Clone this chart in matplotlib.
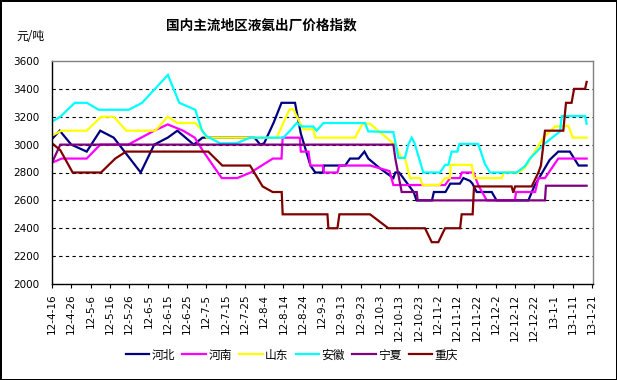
import matplotlib
matplotlib.use("Agg")
import matplotlib.pyplot as plt
import numpy as np

plt.rcParams['font.family'] = ['Noto Sans CJK SC', 'DejaVu Sans']

# day offsets from 2012-04-16, index values (元/吨)
hebei_day = [0, 4, 10, 18, 25, 32, 46, 53, 60, 65, 73.5, 78, 105, 108, 110, 115, 119, 126, 129,
             134, 136.5, 140.5, 141, 152, 154.5, 159, 162, 164, 170, 174, 177, 178, 180, 187.5,
             189, 197, 198, 204, 206.5, 211.5, 213.3, 216.7, 218, 220.2, 228, 230.5, 247, 250,
             258, 262.5, 268.5, 273, 277.2]
hebei_val = [3040, 3100, 3000, 2950, 3100, 3050, 2800, 3000, 3050, 3100, 3000, 3050, 3050, 3000,
             3010, 3160, 3300, 3300, 3080, 2850, 2800, 2800, 2850, 2850, 2900, 2900, 2950, 2900,
             2830, 2790, 2760, 2800, 2800, 2660, 2600, 2600, 2660, 2660, 2720, 2720, 2760, 2740,
             2720, 2660, 2660, 2600, 2600, 2700, 2890, 2950, 2950, 2850, 2850]

henan_day = [0, 5, 18, 25, 39.5, 53, 60, 68, 74, 78.5, 88, 96, 103, 114.5, 119, 119.6, 128.5, 129,
             133, 134, 140.5, 141, 148, 149, 165, 170, 175, 177, 203.8, 206.4, 211.5, 212.5,
             218.5, 221, 225.4, 240, 240.6, 250.5, 252.2, 255.6, 262.5, 277.2]
henan_val = [2870, 2900, 2900, 3000, 3000, 3100, 3145, 3100, 3050, 2950, 2760, 2760, 2800, 2900,
             2900, 3050, 3050, 2950, 2950, 2850, 2850, 2800, 2800, 2850, 2850, 2830, 2810, 2710,
             2710, 2760, 2760, 2800, 2800, 2710, 2600, 2600, 2660, 2660, 2760, 2760, 2900, 2900]

shandong_day = [0, 5, 18, 25.5, 32, 38.5, 53.5, 60, 65, 74.3, 78, 80.2, 116.5, 123, 125, 130.3,
                135.5, 136.5, 157.1, 161, 164.9, 176, 177.8, 181.3, 183, 185.6, 190.8, 192.2,
                200.8, 203.8, 206.3, 206.7, 217.6, 218.8, 233.2, 234.4, 241.8, 245.3, 247.8,
                254.8, 260.8, 267.7, 270, 277.2]
shandong_val = [3065, 3100, 3100, 3200, 3200, 3100, 3100, 3200, 3155, 3155, 3100, 3050, 3050, 3250,
                3255, 3110, 3110, 3050, 3050, 3150, 3150, 3020, 3000, 2905, 2905, 2760, 2760, 2710,
                2710, 2760, 2760, 2855, 2855, 2760, 2760, 2800, 2800, 2835, 2895, 3050, 3130, 3135,
                3050, 3050]

anhui_day = [0, 4.3, 11.8, 18.1, 24.2, 39.8, 46.7, 60.1, 66, 74.3, 77.8, 80.2, 87.1, 95.8, 102.7,
             120, 123.4, 126.9, 129.5, 135.5, 137.2, 140.7, 162.3, 164, 177, 179.6, 183, 184.7,
             186.5, 188, 192.5, 201.2, 203.8, 205.5, 207.2, 210.2, 211.2, 221, 224.5, 227.1,
             240.9, 245.2, 247.8, 254.8, 263.4, 264.3, 276.4, 277.2]
anhui_val = [3165, 3200, 3300, 3300, 3250, 3250, 3300, 3500, 3300, 3250, 3100, 3060, 3010, 3010,
             3050, 3050, 3100, 3155, 3130, 3130, 3100, 3155, 3155, 3095, 3090, 2905, 2905, 3000,
             3050, 3010, 2800, 2800, 2855, 2855, 2950, 2950, 3005, 3005, 2860, 2800, 2800, 2845,
             2900, 3000, 3095, 3205, 3205, 3150]

ningxia_day = [0, 4.3, 177, 178, 181.3, 189.1, 189.6, 255.6, 256.1, 277.2]
ningxia_val = [2870, 3000, 3000, 2900, 2660, 2660, 2600, 2600, 2705, 2705]

chongqing_day = [0, 4.3, 10.7, 25.4, 32.8, 38.4, 81, 88.3, 102.7, 109.2, 114.4, 119.1, 119.6,
                 142.8, 143.3, 148, 149, 164.9, 174.4, 193.4, 196.9, 200.3, 203.8, 211.6, 212.4,
                 218.1, 218.8, 238.3, 239.2, 240.1, 248.7, 252.2, 253.5, 255.6, 265.1, 266.5,
                 269.4, 270.7, 276.4, 277.2]
chongqing_val = [3010, 2960, 2800, 2800, 2900, 2950, 2950, 2850, 2850, 2700, 2660, 2660, 2500,
                 2500, 2400, 2400, 2500, 2500, 2400, 2400, 2300, 2300, 2400, 2400, 2500, 2500,
                 2700, 2700, 2655, 2700, 2700, 2800, 2850, 3100, 3100, 3300, 3300, 3400, 3400, 3450]

tick_labels = ["12-4-16", "12-4-26", "12-5-6", "12-5-16", "12-5-26", "12-6-5", "12-6-15",
               "12-6-25", "12-7-5", "12-7-15", "12-7-25", "12-8-4", "12-8-14", "12-8-24",
               "12-9-3", "12-9-13", "12-9-23", "12-10-3", "12-10-13", "12-10-23", "12-11-2",
               "12-11-12", "12-11-22", "12-12-2", "12-12-12", "12-12-22", "13-1-1", "13-1-11",
               "13-1-21"]

series = [
    ("河北", hebei_day, hebei_val, "#000080"),
    ("河南", henan_day, henan_val, "#FF00FF"),
    ("山东", shandong_day, shandong_val, "#FFFF00"),
    ("安徽", anhui_day, anhui_val, "#00FFFF"),
    ("宁夏", ningxia_day, ningxia_val, "#800080"),
    ("重庆", chongqing_day, chongqing_val, "#800000"),
]

fig = plt.figure(figsize=(6.17, 3.80), dpi=100)
fig.patch.set_facecolor("white")
fig.patch.set_edgecolor("black")
fig.patch.set_linewidth(2)
ax = fig.add_axes([52 / 617, 1 - 284 / 380, 541 / 617, 223 / 380])

for name, d, v, c in series:
    ax.plot(d, v, color=c, lw=1.6, label=name, solid_joinstyle="miter")

ax.set_xlim(0, 280.5)
ax.set_ylim(2000, 3600)
ax.set_yticks(np.arange(2000, 3601, 200))
ax.set_xticks(np.arange(0, 281, 10))
ax.set_xticklabels(tick_labels, rotation=90, fontsize=7.5, family="DejaVu Sans")
for t in ax.get_yticklabels():
    t.set_fontsize(7.5)
    t.set_family("DejaVu Sans")
ax.tick_params(axis="y", length=0, pad=9)
ax.tick_params(axis="x", direction="out", length=3, width=0.8, pad=4)

for yv in range(2200, 3401, 200):
    ax.axhline(yv, color="black", lw=0.8, ls=(0, (3, 3)), zorder=0)

ax.spines["left"].set_color("black")
ax.spines["bottom"].set_color("black")
ax.spines["top"].set_color("#808080")
ax.spines["right"].set_color("#808080")
for sp in ax.spines.values():
    sp.set_linewidth(1)

fig.text(261 / 617, 1 - 25 / 380, "国内主流地区液氨出厂价格指数", ha="center", va="center",
         fontsize=9.8, fontweight="bold")
fig.text(30 / 617, 1 - 36 / 380, "元/吨", ha="center", va="center", fontsize=8.5)

fig.legend(loc="center", bbox_to_anchor=(292 / 617, 1 - 355 / 380), ncol=6, frameon=False,
           fontsize=8.5, handlelength=2.0, handletextpad=0.2, columnspacing=0.6)

fig.savefig("out.png", dpi=100)
